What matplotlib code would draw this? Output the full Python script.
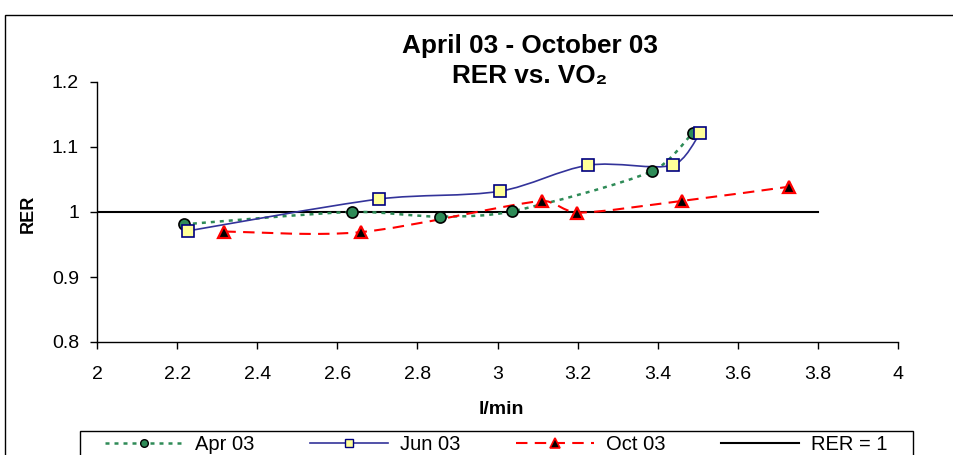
import numpy as np
import matplotlib
matplotlib.use("Agg")
import matplotlib.pyplot as plt
from matplotlib.path import Path
from matplotlib.patches import PathPatch, Rectangle
from matplotlib.lines import Line2D
from matplotlib.ticker import FormatStrFormatter

plt.rcParams['font.family'] = ['Liberation Sans', 'DejaVu Sans']

# RER vs VO2 readings (l/min)
apr_x = [2.217, 2.636, 2.856, 3.036, 3.387, 3.487]
apr_y = [0.981, 1.000, 0.993, 1.001, 1.063, 1.121]
jun_x = [2.228, 2.705, 3.006, 3.227, 3.437, 3.506]
jun_y = [0.971, 1.020, 1.032, 1.072, 1.072, 1.121]
oct_x = [2.318, 2.658, 3.110, 3.199, 3.460, 3.729]
oct_y = [0.970, 0.969, 1.017, 0.999, 1.017, 1.039]
rer_x = [2.0, 3.8]
rer_y = [1.0, 1.0]

labels = ['Apr 03', 'Jun 03', 'Oct 03', 'RER = 1']
x_ticks = [2, 2.2, 2.4, 2.6, 2.8, 3, 3.2, 3.4, 3.6, 3.8, 4]
y_ticks = [0.8, 0.9, 1.0, 1.1, 1.2]

fig = plt.figure(figsize=(9.54, 4.55), dpi=100)
ax = fig.add_axes([97 / 954, 1 - 342 / 455, 801 / 954, 260 / 455])
ax.set_xlim(2, 4)
ax.set_ylim(0.8, 1.2)


def smooth_path(xs, ys):
    # Excel-like smoothed line: Catmull-Rom tangents, clamped to a third of the segment
    pts = ax.transData.transform(np.column_stack([xs, ys]))
    n = len(pts)
    verts = [pts[0]]
    codes = [Path.MOVETO]
    for i in range(n - 1):
        p0 = pts[max(i - 1, 0)]
        p1 = pts[i]
        p2 = pts[i + 1]
        p3 = pts[min(i + 2, n - 1)]
        seg = np.hypot(*(p2 - p1))
        t1 = (p2 - p0) / 6
        t2 = (p3 - p1) / 6
        for t in (t1, t2):
            ln = np.hypot(*t)
            if ln > seg / 3:
                t *= (seg / 3) / ln
        verts += [p1 + t1, p2 - t2, p2]
        codes += [Path.CURVE4] * 3
    verts = ax.transData.inverted().transform(np.array(verts))
    return Path(verts, codes)


green = '#2e8b57'
blue = '#33339a'
red = '#ff0000'

ax.plot(rer_x, rer_y, color='black', lw=1.5, zorder=1)

ax.add_patch(PathPatch(smooth_path(apr_x, apr_y), fill=False, edgecolor=green,
                       lw=1.8, ls=(0, (1.6, 2.0)), zorder=2))
ax.add_patch(PathPatch(smooth_path(jun_x, jun_y), fill=False, edgecolor=blue,
                       lw=1.2, ls='-', zorder=2))
ax.add_patch(PathPatch(smooth_path(oct_x, oct_y), fill=False, edgecolor=red,
                       lw=1.5, ls=(0, (5.5, 3.5)), zorder=2))

ax.plot(apr_x, apr_y, ls='none', marker='o', ms=8, mfc=green, mec='black', mew=1.2, zorder=3)
ax.plot(jun_x, jun_y, ls='none', marker='s', ms=8, mfc='#ffff99', mec='#000080', mew=1.2, zorder=3)
ax.plot(oct_x, oct_y, ls='none', marker='^', ms=9, mfc='black', mec=red, mew=1.6, zorder=3)

ax.set_xticks(x_ticks)
ax.set_yticks(y_ticks)
ax.xaxis.set_major_formatter(FormatStrFormatter('%g'))
ax.yaxis.set_major_formatter(FormatStrFormatter('%g'))
ax.tick_params(direction='out', length=5, width=1, labelsize=14, pad=8)
ax.tick_params(axis='x', pad=12)
ax.spines['top'].set_visible(False)
ax.spines['right'].set_visible(False)
for s in ['left', 'bottom']:
    ax.spines[s].set_linewidth(1)

fig.text(530 / 954, 1 - 46 / 455, 'April 03 - October 03', ha='center', va='center',
         fontsize=18.8, weight='bold')
fig.text(530 / 954, 1 - 76 / 455, 'RER vs. VO\u2082', ha='center', va='center',
         fontsize=18.8, weight='bold')
fig.text(28 / 954, 1 - 214 / 455, 'RER', rotation=90, ha='center', va='center',
         fontsize=13, weight='bold')
fig.text(501 / 954, 1 - 409 / 455, 'l/min', ha='center', va='center',
         fontsize=14, weight='bold')

handles = [
    Line2D([], [], color=green, lw=1.8, ls=(0, (1.6, 2.0)), marker='o', ms=5.5, mfc=green, mec='black', mew=1),
    Line2D([], [], color=blue, lw=1.2, ls='-', marker='s', ms=5.5, mfc='#ffff99', mec='#000080', mew=1),
    Line2D([], [], color=red, lw=1.5, ls=(0, (5.5, 3.5)), marker='^', ms=7, mfc='black', mec=red, mew=1.2),
    Line2D([], [], color='black', lw=1.5),
]
fig.legend(handles, labels, loc='upper left', bbox_to_anchor=(105 / 954, 1 - 435 / 455),
           ncol=4, frameon=False, fontsize=14.5, handlelength=3.88, columnspacing=2.75,
           handletextpad=0.6, borderpad=0, borderaxespad=0)

# legend frame, cut off by the bottom of the image
fig.patches.append(Rectangle((80 / 954, -0.1), 833 / 954, 0.1 + 24 / 455, transform=fig.transFigure,
                             fill=False, edgecolor='black', lw=1))
# chart border
fig.patches.append(Rectangle((5 / 954, -0.1), 1.2, 440 / 455 + 0.1, transform=fig.transFigure,
                             fill=False, edgecolor='black', lw=1))

fig.savefig('out.png', dpi=100)
